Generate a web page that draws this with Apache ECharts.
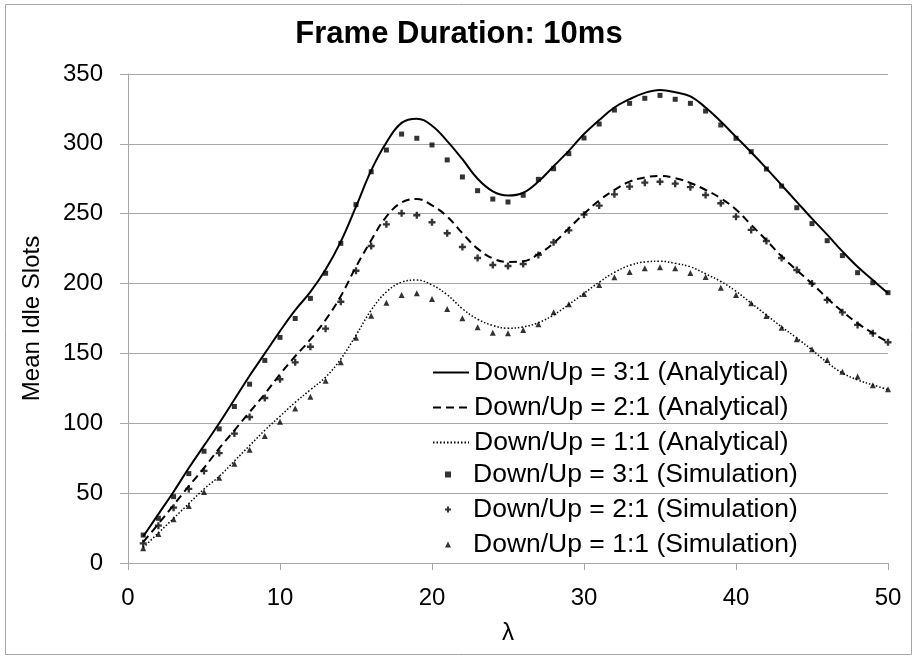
<!DOCTYPE html>
<html>
<head>
<meta charset="utf-8">
<script src="https://cdn.jsdelivr.net/npm/echarts@6/dist/echarts.min.js"></script>
<style>
html,body{margin:0;padding:0;background:#fff;}
#chart{width:918px;height:659px;}
</style>
</head>
<body>
<div id="chart"></div>
<script>
// ---- data ----
const lambdaValues = [1,2,3,4,5,6,7,8,9,10,11,12,13,14,15,16,17,18,19,20,21,22,23,24,25,26,27,28,29,30,31,32,33,34,35,36,37,38,39,40,41,42,43,44,45,46,47,48,49,50];

const analytical31 = [19,35,51,68,84,100,117,134,150,166,181,194,210,230,255,281,301,315,318,313,302,289,275,266,263,265,273,284,295,307,317,326,332,336.5,338.5,337,334,326,316,305,294,282.5,270.5,258.5,246.5,235,223,212,202.5,193];
const analytical21 = [15,28,41.5,55,68,82,95,108,121,135,148,160,174,191,212,231,248,258,260.5,256,248,236,225,218,215.5,216,221,229,239.5,250,259.5,267,273,276,277,275.5,272,267,261,253,242,231,219.5,209.5,200,189.5,180,171.5,164.5,158];
const analytical11 = [11,21.5,32,42.5,53,62,73,84,95,105,115,124,133,146,163,181,194,201,202.5,199,192,182,174.5,170,168,169,172,177.5,185,193,201,208,213,215.5,216,214.5,212,207,201.5,194.5,186,177.5,169,161,152.5,143.5,136,131,127.5,124];

const simulation31 = [20,32,47.5,64,80,96,112,128,145,161.5,175,189.4,207.4,228.8,256.5,280,295.6,307,304,299.2,288.5,276.3,266.5,260.5,258.4,263.2,274.6,282.2,293,304.2,314.2,324.2,329,332.6,334.7,331.9,329,323.5,313.5,304,294.4,282,269.8,254.3,242.9,230.7,220,207.8,200.6,193.5];
const simulation21 = [14.1,26.7,39.6,53,65.9,78.7,92.6,104.5,118.1,131.5,143.6,154.8,167.7,187,209.2,226.9,242.4,250.3,248.9,243.9,236,226.2,218.3,213.3,212.6,214,220.5,229.5,238.1,249.3,255.8,263.9,269.4,272.2,272.9,271.5,269,263.4,257.5,247.9,238.4,230.5,218.3,209.7,200,188.3,179.4,170.4,164.4,158];
const simulation11 = [10.5,20.8,31.3,40.8,50.8,61.1,71.1,81.1,90.9,101.1,110.5,119,130.5,143.6,161.3,177,186.3,191.8,193,189,181.8,175.1,168.7,164.8,164.4,166.8,170.8,179.4,185.2,192.5,199,204.5,208.3,210.9,211.6,210.9,207.5,204.7,197,191.8,185.9,176.8,168.4,160.1,153,145.3,136.9,133.4,127.2,124.3];

const seriesNames = [
  'Down/Up = 3:1 (Analytical)',
  'Down/Up = 2:1 (Analytical)',
  'Down/Up = 1:1 (Analytical)',
  'Down/Up = 3:1 (Simulation)',
  'Down/Up = 2:1 (Simulation)',
  'Down/Up = 1:1 (Simulation)'
];
const titleText = 'Frame Duration: 10ms';
const xAxisName = 'λ';
const yAxisName = 'Mean Idle Slots';

// ---- build ----
function pairs(ys){ return lambdaValues.map((x,i)=>[x, ys[i]]); }
const plusPath = 'path://M2,0H4V2H6V4H4V6H2V4H0V2H2Z';
const FONT = '"Liberation Sans", Arial, sans-serif';

const chart = echarts.init(document.getElementById('chart'), null, {renderer:'canvas'});
const option = {
  animation: false,
  backgroundColor: '#fff',
  title: {
    text: titleText, left: 'center', top: 14,
    textStyle: {fontFamily: FONT, fontSize: 31, fontWeight: 'bold', color: '#000'}
  },
  grid: {left: 128, right: 30, top: 74, bottom: 96, containLabel: false},
  xAxis: {
    type: 'value', min: 0, max: 50, interval: 10,
    name: xAxisName, nameLocation: 'middle', nameGap: 58,
    nameTextStyle: {fontFamily: FONT, fontSize: 24, color: '#000'},
    axisLine: {show: true, lineStyle: {color: '#a6a6a6', width: 1}},
    axisTick: {show: true, length: 7, lineStyle: {color: '#a6a6a6'}},
    axisLabel: {fontFamily: FONT, fontSize: 24, color: '#000', margin: 23},
    splitLine: {show: false}
  },
  yAxis: {
    type: 'value', min: 0, max: 350, interval: 50,
    name: yAxisName, nameLocation: 'middle', nameGap: 84, nameRotate: 90,
    nameTextStyle: {fontFamily: FONT, fontSize: 24, color: '#000'},
    axisLine: {show: true, lineStyle: {color: '#a6a6a6', width: 1}},
    axisTick: {show: true, length: 8, lineStyle: {color: '#a6a6a6'}},
    axisLabel: {fontFamily: FONT, fontSize: 24, color: '#000', margin: 25},
    splitLine: {show: true, lineStyle: {color: '#a6a6a6', width: 1}}
  },
  legend: [
    {
      orient: 'vertical', left: 427, top: 354, itemWidth: 36, itemHeight: 14, itemGap: 8,
      data: seriesNames.slice(0,3),
      itemStyle: {opacity: 0},
      textStyle: {fontFamily: FONT, fontSize: 26.5, color: '#000'}
    },
    {
      orient: 'vertical', left: 440, top: 456, itemWidth: 6, itemHeight: 6, itemGap: 8,
      data: [
        {name: seriesNames[3], icon: 'rect'},
        {name: seriesNames[4], icon: plusPath},
        {name: seriesNames[5], icon: 'triangle'}
      ],
      textStyle: {fontFamily: FONT, fontSize: 26.5, color: '#000', padding: [0,0,0,17]}
    }
  ],
  graphic: [{
    type: 'rect', shape: {x: 5.5, y: 4.5, width: 906, height: 650},
    style: {fill: 'none', stroke: '#a6a6a6', lineWidth: 1}, silent: true, z: -1
  }],
  series: [
    {name: seriesNames[0], type: 'line', data: pairs(analytical31), smooth: 0.4, symbol: 'none',
     lineStyle: {color: '#000', width: 2, type: 'solid'}, itemStyle: {color: '#000'}, z: 3},
    {name: seriesNames[1], type: 'line', data: pairs(analytical21), smooth: 0.4, symbol: 'none',
     lineStyle: {color: '#000', width: 2, type: [8,5]}, itemStyle: {color: '#000'}, z: 3},
    {name: seriesNames[2], type: 'line', data: pairs(analytical11), smooth: 0.4, symbol: 'none',
     lineStyle: {color: '#000', width: 1.5, type: [1.5,2]}, itemStyle: {color: '#000'}, z: 3},
    {name: seriesNames[3], type: 'scatter', data: pairs(simulation31), symbol: 'rect', symbolSize: 5,
     itemStyle: {color: '#000'}, z: 4},
    {name: seriesNames[4], type: 'scatter', data: pairs(simulation21), symbol: plusPath, symbolSize: 7,
     itemStyle: {color: '#000'}, z: 4},
    {name: seriesNames[5], type: 'scatter', data: pairs(simulation11), symbol: 'triangle', symbolSize: 6,
     itemStyle: {color: '#000'}, z: 4}
  ]
};
chart.setOption(option);
</script>
</body>
</html>
